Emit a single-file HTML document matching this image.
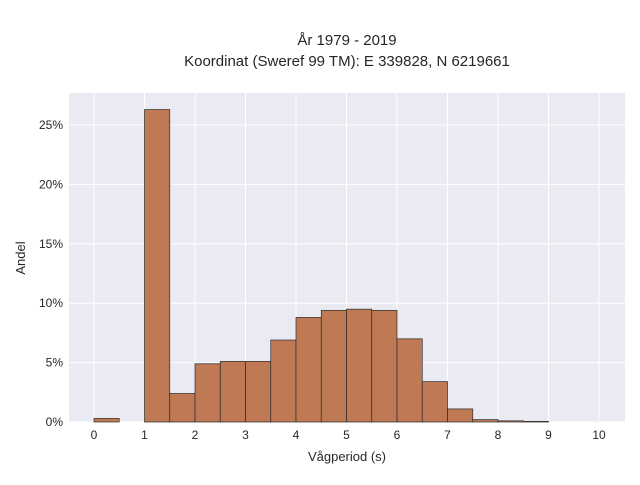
<!DOCTYPE html>
<html><head><meta charset="utf-8"><style>
body{margin:0;background:#fff;font-family:"Liberation Sans",sans-serif;}
svg text{font-family:"Liberation Sans",sans-serif;fill:#262626;}
</style></head><body>
<svg id="chart" width="640" height="480" xmlns="http://www.w3.org/2000/svg">
<text x="347" y="45" font-size="15" text-anchor="middle">År 1979 - 2019</text>
<text x="347" y="66" font-size="15" text-anchor="middle">Koordinat (Sweref 99 TM): E 339828, N 6219661</text>
<rect x="69" y="93" width="556" height="329" fill="#EAEAF2"/>
<g id="grid"></g><g id="bars"></g><g id="ticks"></g>
<text x="347" y="461" font-size="13" text-anchor="middle">Vågperiod (s)</text>
<text transform="translate(25,258) rotate(-90)" font-size="13" text-anchor="middle">Andel</text>
</svg>
<script>
const binStarts=[0,0.5,1,1.5,2,2.5,3,3.5,4,4.5,5,5.5,6,6.5,7,7.5,8,8.5,9,9.5];
const shares=[0.3,0,26.3,2.4,4.9,5.1,5.1,6.9,8.8,9.4,9.5,9.4,7.0,3.4,1.1,0.2,0.1,0.05,0,0];
const xTicks=[0,1,2,3,4,5,6,7,8,9,10];
const yTicks=[0,5,10,15,20,25];
const binWidth=0.5;
const NS="http://www.w3.org/2000/svg";
const x=v=>94+v*50.5, y=v=>422-v*11.88;
const grid=document.getElementById('grid'),bars=document.getElementById('bars'),ticks=document.getElementById('ticks');
function mk(tag,attrs,parent){const e=document.createElementNS(NS,tag);for(const k in attrs)e.setAttribute(k,attrs[k]);parent.appendChild(e);return e;}
xTicks.forEach(t=>{
 const l=mk('line',{x1:x(t),x2:x(t),y1:93,y2:422,stroke:'#fff','stroke-width':1},grid);
 
 
 const tx=mk('text',{x:x(t),y:439,'font-size':12,'text-anchor':'middle'},ticks);
 tx.textContent=t;
 
 
});
yTicks.forEach(t=>{
 const l=mk('line',{x1:69,x2:625,y1:y(t),y2:y(t),stroke:'#fff','stroke-width':1},grid);
 
 
 const tx=mk('text',{x:63,y:y(t)+4,'font-size':12,'text-anchor':'end'},ticks);
 tx.textContent=t+'%';
 
 
});
binStarts.forEach((b,i)=>{
 const v=shares[i]; if(v<=0) return;
 const r=mk('rect',{x:x(b),y:y(v),width:x(b+binWidth)-x(b),height:y(0)-y(v),fill:'#BF7A55',stroke:'#2b2b2b','stroke-width':0.7},bars);
 
 
});
</script>
</body></html>
